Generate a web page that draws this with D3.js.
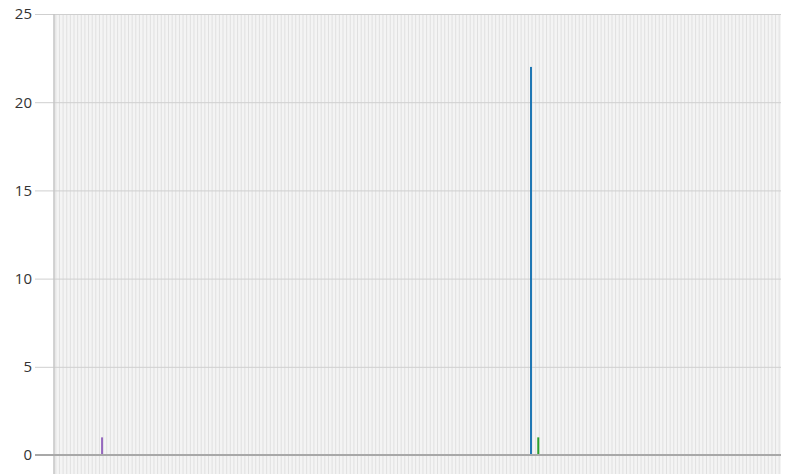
<html lang="en">
<head>
  <meta charset="UTF-8"/>
  <title>Bar chart</title>
  <script src="https://d3js.org/d3.v7.min.js"></script>
  <style>
body { margin: 0; background: #fff; font-family: 'Open Sans', sans-serif; }
svg { display: block; }
.tick text { font-size: 15px; fill: #333; font-family: 'Open Sans', sans-serif; }
.ygrid .tick line { stroke: #cfcfcf; }
.ygrid path, .xgrid path { stroke: none; }
.xgrid .tick line { stroke: #e0e0e0; }
  </style>
</head>
<body>
  <svg width="789" height="474"></svg>
  <script>
// categories along x (labels fall below the visible area)
const categoryCount = 200;
const categories = d3.range(categoryCount).map(i => 'c' + i);

// the only non-zero bars
const barCategories = ['c13', 'c131', 'c133'];
const barValues = [1, 22, 1];
const barSeries = ['E', 'A', 'C'];

const seriesNames = ['A', 'B', 'C', 'D', 'E'];
const yTicks = [0, 5, 10, 15, 20, 25];

const svg = d3.select('svg');
const plotLeft = 54, plotRight = 781, plotTop = 14, zeroY = 455;

const x = d3.scaleBand().domain(categories).range([plotLeft, plotRight]);
const y = d3.scaleLinear().domain([0, 25]).range([zeroY, plotTop]);
const color = d3.scaleOrdinal().domain(seriesNames).range(d3.schemeCategory10);

svg.append('rect')
  .attr('x', plotLeft).attr('y', plotTop)
  .attr('width', plotRight - plotLeft).attr('height', 474 - plotTop)
  .attr('fill', '#f4f4f4');

// vertical grid, one line per category
svg.append('g')
  .attr('class', 'xgrid')
  .attr('transform', `translate(0, ${plotTop})`)
  .call(d3.axisTop(x).tickSize(-500).tickFormat(''));

// horizontal grid + labels
svg.append('g')
  .attr('class', 'ygrid')
  .attr('transform', `translate(${plotRight}, 0)`)
  .call(d3.axisLeft(y).tickValues(yTicks).tickSize(plotRight - 35).tickPadding(3));

// left axis line
svg.append('line')
  .attr('x1', plotLeft).attr('x2', plotLeft)
  .attr('y1', plotTop).attr('y2', 474)
  .attr('stroke', '#c4c4c4').attr('stroke-width', 1.5);

const bars = barValues.map((v, i) => ({cat: barCategories[i], value: v, series: barSeries[i]}));
const bw = 2;
svg.append('g').selectAll('rect')
  .data(bars)
  .join('rect')
  .attr('x', d => x(d.cat) + x.bandwidth() / 2 - bw / 2 - 1)
  .attr('y', d => y(d.value))
  .attr('width', bw)
  .attr('height', d => y(0) - y(d.value))
  .attr('fill', d => color(d.series));

// zero line
svg.append('line')
  .attr('x1', 35).attr('x2', plotRight)
  .attr('y1', y(0)).attr('y2', y(0))
  .attr('stroke', '#a8a8a8').attr('stroke-width', 2);
  </script>
</body>
</html>
